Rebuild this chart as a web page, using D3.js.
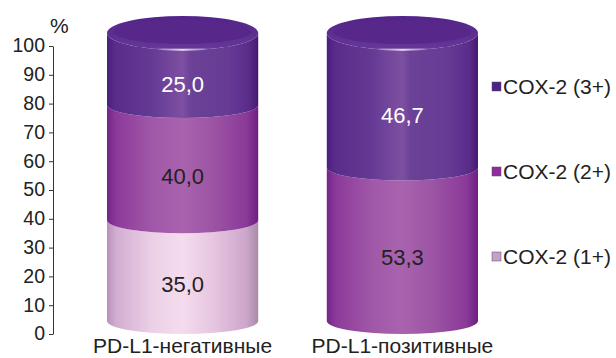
<!DOCTYPE html>
<html><head><meta charset="utf-8">
<script src="https://cdn.jsdelivr.net/npm/d3@7"></script>
<style>
html,body{margin:0;padding:0;background:#fff;}
svg{display:block;font-family:"Liberation Sans",Arial,sans-serif;}
</style></head>
<body>
<svg id="chart" width="616" height="358"></svg>
<script>
// ---- data ----
const categories = ["PD-L1-негативные", "PD-L1-позитивные"];
const seriesNames = ["COX-2 (1+)", "COX-2 (2+)", "COX-2 (3+)"];
const cox1 = [35.0, 0];
const cox2 = [40.0, 53.3];
const cox3 = [25.0, 46.7];
const yTicks = [0, 10, 20, 30, 40, 50, 60, 70, 80, 90, 100];

// ---- styles ----
const gradStops = {
  "COX-2 (1+)": [[0,"#b890ba"],[0.06,"#d2aed2"],[0.3,"#ebd0e6"],[0.5,"#f4dcee"],[0.7,"#e6c6e0"],[0.92,"#cda6cc"],[1,"#a88aa8"]],
  "COX-2 (2+)": [[0,"#742487"],[0.06,"#8c3a9a"],[0.3,"#a058a8"],[0.5,"#a963ae"],[0.7,"#9c54a4"],[0.92,"#8a3a98"],[1,"#6e1f80"]],
  "COX-2 (3+)": [[0,"#4c1f7e"],[0.06,"#5a2c8c"],[0.3,"#643a94"],[0.5,"#7e50a2"],[0.55,"#6c4298"],[0.8,"#653b94"],[0.94,"#5a2c8a"],[1,"#45196f"]]
};
const legendFill = {"COX-2 (1+)":"#c4a2c8","COX-2 (2+)":"#8e2e9c","COX-2 (3+)":"#4a2486"};
const labelColor = {"COX-2 (1+)":"#222","COX-2 (2+)":"#222","COX-2 (3+)":"#fff"};

const svg = d3.select("#chart");
const defs = svg.append("defs");
seriesNames.forEach((s, i) => {
  const g = defs.append("linearGradient").attr("id", "g" + i)
    .attr("x1", "0%").attr("x2", "100%").attr("y1", "0%").attr("y2", "0%");
  gradStops[s].forEach(st => g.append("stop").attr("offset", st[0]).attr("stop-color", st[1]));
});
const capG = defs.append("linearGradient").attr("id","cap").attr("x1","0%").attr("x2","0%").attr("y1","0%").attr("y2","100%");
capG.append("stop").attr("offset",0).attr("stop-color","#52248a");
capG.append("stop").attr("offset",1).attr("stop-color","#663898");
const hl = defs.append("linearGradient").attr("id","hl").attr("x1","0%").attr("x2","100%");
hl.append("stop").attr("offset",0).attr("stop-color","#fff").attr("stop-opacity",0);
hl.append("stop").attr("offset",0.5).attr("stop-color","#fff").attr("stop-opacity",0.85);
hl.append("stop").attr("offset",1).attr("stop-color","#fff").attr("stop-opacity",0);

// ---- scales ----
const yAxisScale = d3.scaleLinear().domain([0, 100]).range([334, 46]);
const yCyl = d3.scaleLinear().domain([0, 100]).range([321, 33]);
const ryAt = v => v >= 100 ? 17 : 13;
const x = d3.scaleBand().domain(categories).range([107, 478]).paddingInner(0.312).paddingOuter(0);

// ---- axis ----
const axis = d3.axisLeft(yAxisScale).tickValues(yTicks).tickSize(4).tickSizeOuter(0).tickPadding(4);
const ax = svg.append("g").attr("transform", "translate(53,0)").call(axis);
ax.select(".domain").attr("stroke", "#333");
ax.selectAll(".tick line").attr("stroke", "#333");
ax.selectAll(".tick text").attr("font-size", 19.5).attr("fill", "#222")
  .attr("font-family", "Liberation Sans, Arial, sans-serif").attr("dy", "0.3em");
svg.append("text").attr("x", 50).attr("y", 33).attr("font-size", 21).attr("fill", "#222").text("%");

// ---- stacked data ----
const rows = categories.map((c, i) => ({cat: c, "COX-2 (1+)": cox1[i], "COX-2 (2+)": cox2[i], "COX-2 (3+)": cox3[i]}));
const stacked = d3.stack().keys(seriesNames)(rows);
const fmt = v => d3.format(".1f")(v).replace(".", ",");

const bars = svg.append("g");
stacked.forEach((layer, si) => {
  layer.forEach((d, ci) => {
    const a = d[0], b = d[1];
    if (b - a <= 0) return;
    const xl = x(categories[ci]), w = x.bandwidth(), xr = xl + w, rx = w / 2;
    const ca = yCyl(a), cb = yCyl(b), ra = ryAt(a), rb = ryAt(b);
    const p = `M${xl},${cb} L${xl},${ca} A${rx},${ra} 0 0 0 ${xr},${ca} L${xr},${cb} A${rx},${rb} 0 0 1 ${xl},${cb} Z`;
    bars.append("path").attr("d", p).attr("fill", `url(#g${si})`);
    if (b >= 100) {
      const cx = xl + rx;
      bars.append("ellipse").attr("cx", cx).attr("cy", cb).attr("rx", rx).attr("ry", rb).attr("fill", "url(#cap)");
      bars.append("ellipse").attr("cx", cx).attr("cy", cb - 1).attr("rx", rx - 7).attr("ry", rb - 5).attr("fill", "#57288a");
      bars.append("path")
        .attr("d", `M${cx - 28},${cb + rb - 1.5} A${rx},${rb} 0 0 0 ${cx + 28},${cb + rb - 1.5}`)
        .attr("fill", "none").attr("stroke", "url(#hl)").attr("stroke-width", 2);
    }
    const yTopFront = cb + rb, yBotFront = ca + ra;
    bars.append("text").attr("x", xl + rx).attr("y", (yTopFront + yBotFront) / 2)
      .attr("dy", "0.36em").attr("text-anchor", "middle").attr("font-size", 22)
      .attr("fill", labelColor[seriesNames[si]]).text(fmt(b - a));
  });
});

// ---- category labels ----
svg.append("g").selectAll("text").data(categories).join("text")
  .attr("x", d => x(d) + x.bandwidth() / 2).attr("y", 353)
  .attr("text-anchor", "middle").attr("font-size", 21).attr("fill", "#222").text(d => d);

// ---- legend ----
const legendOrder = ["COX-2 (3+)", "COX-2 (2+)", "COX-2 (1+)"];
const ly = d3.scalePoint().domain(legendOrder).range([86.5, 256.5]);
const lg = svg.append("g").selectAll("g").data(legendOrder).join("g")
  .attr("transform", d => `translate(492,${ly(d)})`);
lg.append("rect").attr("x", 0).attr("y", -4.5).attr("width", 9).attr("height", 9)
  .attr("fill", d => legendFill[d]).attr("stroke", "#5a4a6a").attr("stroke-width", 0.5);
lg.append("text").attr("x", 11).attr("y", 0).attr("dy", "0.36em").attr("font-size", 21)
  .attr("fill", "#222").text(d => d);
</script>
</body></html>
